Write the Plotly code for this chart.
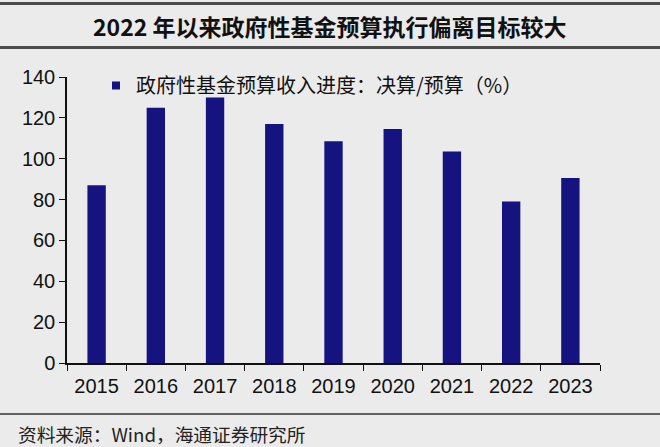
"""Government fund budget execution progress, 2015-2023."""
import plotly.graph_objects as go

years = ['2015', '2016', '2017', '2018', '2019', '2020', '2021', '2022', '2023']
progress = [87, 125, 130, 117, 108.5, 114.5, 103.5, 79, 90.5]

y_ticks = [0, 20, 40, 60, 80, 100, 120, 140]

title_text = '2022 年以来政府性基金预算执行偏离目标较大'
series_name = '政府性基金预算收入进度：决算/预算（%）'
source_text = '资料来源：Wind，海通证券研究所'

BG = '#ebebeb'
BAR = '#14137f'
LINE = '#4d4d4d'
CJK = 'Noto Sans CJK SC'
LATIN = 'Liberation Sans, Arial'

# plot area in pixels
L, R, T, B = 67, 600, 77, 363
W, H = R - L, B - T


def px(x, y):
    """pixel position -> paper coordinates"""
    return (x - L) / W, (B - y) / H


fig = go.Figure()

fig.add_trace(go.Bar(
    x=years,
    y=progress,
    name=series_name,
    width=0.31,
    marker=dict(color=BAR, line=dict(width=0)),
    showlegend=False,
))
# legend entry with a small square, like the original
fig.add_trace(go.Scatter(
    x=[None], y=[None],
    mode='markers',
    name=series_name,
    marker=dict(symbol='square', size=8, color=BAR),
))

fig.update_layout(
    width=660,
    height=447,
    paper_bgcolor=BG,
    plot_bgcolor=BG,
    margin=dict(l=L, r=660 - R, t=T, b=447 - B),
    font=dict(family=LATIN, color='#111111'),
    xaxis=dict(
        type='category',
        showline=True,
        linecolor='#111111',
        linewidth=1.5,
        ticks='outside',
        tickson='boundaries',
        ticklen=6,
        tickcolor='#111111',
        tickfont=dict(size=20, family=LATIN),
        ticklabelstandoff=4,
        showgrid=False,
        zeroline=False,
    ),
    yaxis=dict(
        range=[0, 140],
        tickvals=y_ticks,
        showline=True,
        linecolor='#111111',
        linewidth=1.5,
        ticks='outside',
        ticklen=6,
        tickcolor='#111111',
        tickfont=dict(size=20, family=LATIN),
        showgrid=False,
        zeroline=False,
    ),
    legend=dict(
        x=px(96, 0)[0],
        y=px(0, 85.5)[1],
        xanchor='left',
        yanchor='middle',
        bgcolor='rgba(0,0,0,0)',
        font=dict(size=20, family=CJK, color='#111111'),
    ),
    bargap=0.5,
)

# title band
tx, ty = px(330, 26)
fig.add_annotation(
    text=f'<b>{title_text}</b>',
    xref='paper', yref='paper',
    x=tx, y=ty,
    xanchor='center', yanchor='middle',
    showarrow=False,
    font=dict(size=23, family=CJK, color='#111111'),
)
for ypx in (3.5, 47.5):
    fig.add_shape(type='line', xref='paper', yref='paper',
                  x0=px(0, 0)[0], x1=px(660, 0)[0],
                  y0=px(0, ypx)[1], y1=px(0, ypx)[1],
                  line=dict(color=LINE, width=3))

# source line and text
fig.add_shape(type='line', xref='paper', yref='paper',
              x0=px(0, 0)[0], x1=px(660, 0)[0],
              y0=px(0, 414)[1], y1=px(0, 414)[1],
              line=dict(color='#333333', width=1.5))
sx, sy = px(16, 433)
fig.add_annotation(
    text=source_text,
    xref='paper', yref='paper',
    x=sx, y=sy,
    xanchor='left', yanchor='middle',
    showarrow=False,
    font=dict(size=18.7, family=CJK, color='#222222'),
)

fig.write_html(
    'out.html',
    config={'displayModeBar': False},
    post_script="document.body.style.margin='0';document.body.style.overflow='hidden';",
)
